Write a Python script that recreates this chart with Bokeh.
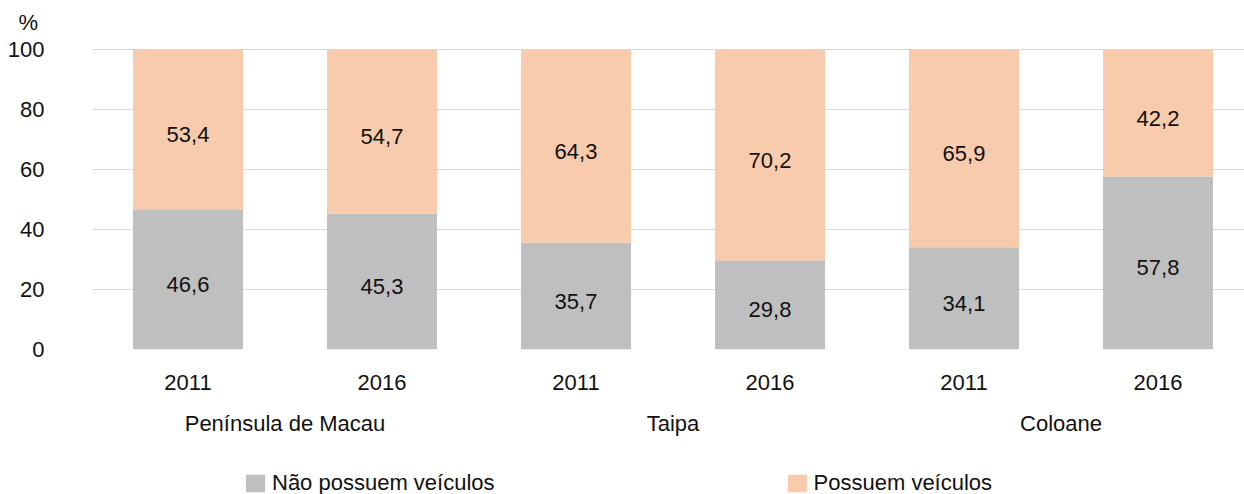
from bokeh.plotting import figure
from bokeh.layouts import column
from bokeh.models import (Range1d, FixedTicker, LinearAxis, Legend, LegendItem,
                          Title, ColumnDataSource)
from bokeh.core.properties import value
from bokeh.embed import file_html
from bokeh.resources import INLINE

# ---- data ----
groups = ["Península de Macau", "Taipa", "Coloane"]
years = ["2011", "2016", "2011", "2016", "2011", "2016"]
nao_possuem = [46.6, 45.3, 35.7, 29.8, 34.1, 57.8]
possuem = [53.4, 54.7, 64.3, 70.2, 65.9, 42.2]
series_names = ["Não possuem veículos", "Possuem veículos"]
y_ticks = [0, 20, 40, 60, 80, 100]
y_unit = "%"

# ---- style ----
FONT = "Liberation Sans"
FS = "22px"
TXT = "#111111"
colors = ["#bfbfbf", "#f8cbad"]

xs = list(range(len(years)))
src = ColumnDataSource(dict(
    x=xs,
    nao=nao_possuem,
    pos=possuem,
    nao_mid=[v / 2 for v in nao_possuem],
    pos_mid=[a + b / 2 for a, b in zip(nao_possuem, possuem)],
    nao_lbl=[f"{v:.1f}".replace(".", ",") for v in nao_possuem],
    pos_lbl=[f"{v:.1f}".replace(".", ",") for v in possuem],
))

p = figure(width=1244, height=456,
           x_range=Range1d(-0.4923, 5.4459), y_range=Range1d(0, 103.17),
           output_backend="svg", toolbar_location=None,
           min_border_left=92, min_border_right=0,
           min_border_top=40, min_border_bottom=107)
p.outline_line_color = None
p.background_fill_color = "white"
p.border_fill_color = "white"

p.title = Title(text=y_unit, align="left", offset=-74, standoff=12,
                text_font=FONT, text_font_size=FS, text_font_style="normal",
                text_color=TXT)

renderers = p.vbar_stack(["nao", "pos"], x="x", width=0.567, source=src,
                         fill_color=colors, line_color=None)

p.text(x="x", y="nao_mid", text="nao_lbl", source=src, text_align="center",
       text_baseline="middle", text_font=value(FONT), text_font_size=FS,
       text_color=TXT, y_offset=5)
p.text(x="x", y="pos_mid", text="pos_lbl", source=src, text_align="center",
       text_baseline="middle", text_font=value(FONT), text_font_size=FS,
       text_color=TXT, y_offset=5)

# grids
p.xgrid.visible = False
p.ygrid.ticker = FixedTicker(ticks=y_ticks)
p.ygrid.grid_line_color = "#d9d9d9"
p.ygrid.grid_line_width = 1

# y axis
ya = p.yaxis[0]
ya.ticker = FixedTicker(ticks=y_ticks)
ya.axis_line_color = None
ya.major_tick_line_color = None
ya.minor_tick_line_color = None
ya.major_tick_out = 0
ya.major_tick_in = 0
ya.major_label_standoff = 48
ya.major_label_text_font = FONT
ya.major_label_text_font_size = FS
ya.major_label_text_color = TXT

# x axis (years)
xa = p.xaxis[0]
xa.ticker = FixedTicker(ticks=xs)
xa.major_label_overrides = {i: y for i, y in zip(xs, years)}
xa.axis_line_color = None
xa.major_tick_line_color = None
xa.minor_tick_line_color = None
xa.major_tick_out = 0
xa.major_tick_in = 0
xa.major_label_standoff = 25
xa.major_label_text_font = FONT
xa.major_label_text_font_size = FS
xa.major_label_text_color = TXT

# group axis
group_pos = [0.5, 2.5, 4.5]
ga = LinearAxis(ticker=FixedTicker(ticks=group_pos),
                major_label_overrides={g: n for g, n in zip(group_pos, groups)})
ga.axis_line_color = None
ga.major_tick_line_color = None
ga.minor_tick_line_color = None
ga.major_tick_out = 0
ga.major_tick_in = 0
ga.major_label_standoff = 18
ga.major_label_text_font = FONT
ga.major_label_text_font_size = FS
ga.major_label_text_color = TXT
p.add_layout(ga, "below")

# ---- legend strip (own small figure below the chart) ----
pl = figure(width=1244, height=38, x_range=Range1d(0, 1), y_range=Range1d(0, 1),
            output_backend="svg", toolbar_location=None,
            x_axis_type=None, y_axis_type=None,
            min_border_left=0, min_border_right=0,
            min_border_top=0, min_border_bottom=0)
pl.outline_line_color = None
pl.xgrid.visible = False
pl.ygrid.visible = False
leg_renderers = pl.vbar_stack(["nao", "pos"], x="x", width=0.567, source=src,
                              fill_color=colors, line_color=None)
for r in leg_renderers:
    r.visible = False
legend = Legend(items=[LegendItem(label=n, renderers=[r])
                       for n, r in zip(series_names, leg_renderers)],
                orientation="horizontal", location=(151, -2),
                glyph_width=24, glyph_height=22, label_standoff=5,
                spacing=290, padding=0, margin=0,
                border_line_color=None, background_fill_alpha=0,
                inactive_fill_alpha=0,
                label_text_font=FONT, label_text_font_size=FS,
                label_text_color=TXT)
pl.add_layout(legend, "center")

layout = column(p, pl, spacing=0)
open("out.html", "w").write(file_html(layout, INLINE))
